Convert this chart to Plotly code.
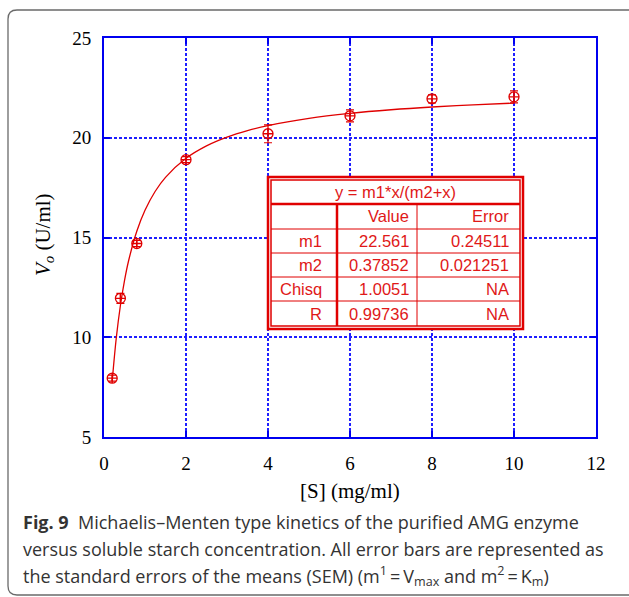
import plotly.graph_objects as go

# ---- data ----
S = [0.2, 0.4, 0.8, 2, 4, 6, 8, 10]
V = [7.95, 11.95, 14.7, 18.9, 20.2, 21.1, 21.95, 22.05]
V_err = [0.15, 0.25, 0.15, 0.15, 0.45, 0.3, 0.2, 0.3]
m1, m2 = 22.561, 0.37852
fit_x = [0.2, 0.3, 0.4, 0.5, 0.6, 0.8, 1.0, 1.25, 1.5, 2, 2.5, 3, 3.5, 4, 5, 6, 7, 8, 9, 10]
fit_y = [m1 * x / (m2 + x) for x in fit_x]

table_title = "y = m1*x/(m2+x)"
table_rows = [
    ["", "Value", "Error"],
    ["m1", "22.561", "0.24511"],
    ["m2", "0.37852", "0.021251"],
    ["Chisq", "1.0051", "NA"],
    ["R", "0.99736", "NA"],
]
xticks = [0, 2, 4, 6, 8, 10, 12]
yticks = [5, 10, 15, 20, 25]

W, H = 629, 597
L, R, T, B = 104, 596, 38, 437   # plot area in pixels


def px(x):
    return (x - L) / (R - L)


def py(y):
    return (B - y) / (B - T)


RED = "#e00000"
BLUE = "#0000f0"
GRID = "#1f1fff"

fig = go.Figure()
fig.add_trace(go.Scatter(x=fit_x, y=fit_y, mode="lines",
                         line=dict(color=RED, width=1.3), line_shape="spline",
                         hoverinfo="skip", showlegend=False))
fig.add_trace(go.Scatter(x=S, y=V, mode="markers",
                         marker=dict(symbol="circle-cross-open", size=10,
                                     color=RED, line=dict(color=RED, width=1.3)),
                         error_y=dict(type="data", array=V_err, color=RED,
                                      thickness=1.2, width=4),
                         showlegend=False))

axis_common = dict(showline=True, linecolor=BLUE, linewidth=2, mirror="allticks",
                   ticks="inside", ticklen=6, tickcolor=BLUE, tickwidth=1.5,
                   showgrid=True, gridcolor=GRID, gridwidth=1.5, griddash="3px,2px",
                   zeroline=False,
                   tickfont=dict(family="Liberation Serif", size=19, color="black"))
fig.update_xaxes(range=[0, 12], tickvals=xticks, ticklabelstandoff=8, **axis_common)
fig.update_yaxes(range=[5, 25], tickvals=yticks, ticklabelstandoff=7, **axis_common)

shapes = []
# outer rounded frame
x0, y0, x1, y1, r = 8, 10, 660, 595, 9
path = (f"M {px(x1)},{py(y0)} L {px(x0 + r)},{py(y0)} "
        f"Q {px(x0)},{py(y0)} {px(x0)},{py(y0 + r)} "
        f"L {px(x0)},{py(y1 - r)} Q {px(x0)},{py(y1)} {px(x0 + r)},{py(y1)} "
        f"L {px(x1)},{py(y1)}")
shapes.append(dict(type="path", xref="paper", yref="paper", path=path,
                   line=dict(color="#6a6a6a", width=1.3)))


# table
def rect(a, b, c, d, w, fill=None):
    s = dict(type="rect", xref="paper", yref="paper",
             x0=px(a), x1=px(c), y0=py(b), y1=py(d),
             line=dict(color=RED, width=w))
    if fill:
        s["fillcolor"] = fill
    return s


def hline(a, c, y, w):
    return dict(type="line", xref="paper", yref="paper", x0=px(a), x1=px(c),
                y0=py(y), y1=py(y), line=dict(color=RED, width=w))


def vline(x, b, d, w):
    return dict(type="line", xref="paper", yref="paper", x0=px(x), x1=px(x),
                y0=py(b), y1=py(d), line=dict(color=RED, width=w))


tx0, ty0, tx1, ty1 = 268, 177, 523, 329
ix0, iy0, ix1, iy1 = 271, 180, 520, 326
shapes.append(rect(tx0, ty0, tx1, ty1, 2.5, fill="white"))
shapes.append(rect(ix0, iy0, ix1, iy1, 1.5))
shapes.append(hline(ix0, ix1, 204, 2.5))
row_lines = [229, 253, 277, 301]
for yl in row_lines:
    shapes.append(hline(ix0, ix1, yl, 1))
shapes.append(vline(337, 204, iy1, 2.5))
shapes.append(vline(417, 204, iy1, 1))

annotations = []
tfont = dict(family="Liberation Sans", size=16.5, color="#e01818")
annotations.append(dict(xref="paper", yref="paper", x=px((ix0 + ix1) / 2), y=py(192),
                        text=table_title, showarrow=False, font=tfont,
                        xanchor="center", yanchor="middle"))
row_centers = [216.5, 241, 265, 289, 313.5]
col_right = [324, 411, 511]
for rc, row in zip(row_centers, table_rows):
    for cr, cell in zip(col_right, row):
        if cell:
            annotations.append(dict(xref="paper", yref="paper", x=px(cr), y=py(rc),
                                    text=cell, showarrow=False, font=tfont,
                                    xanchor="right", yanchor="middle"))

# axis titles
annotations.append(dict(xref="paper", yref="paper", x=px(350), y=py(491),
                        text="[S] (mg/ml)", showarrow=False,
                        font=dict(family="Liberation Serif", size=21, color="black"),
                        xanchor="center", yanchor="middle"))
annotations.append(dict(xref="paper", yref="paper", x=px(44), y=py(235),
                        text="<i>V</i><sub><i>o</i></sub> (U/ml)", showarrow=False,
                        textangle=-90,
                        font=dict(family="Liberation Serif", size=21, color="black"),
                        xanchor="center", yanchor="middle"))

# caption
cap_font = dict(family="Open Sans", size=18, color="#333333")
cap_lines = [
    "<b>Fig. 9</b>  Michaelis–Menten type kinetics of the purified AMG enzyme",
    "versus soluble starch concentration. All error bars are represented as",
    "the standard errors of the means (SEM) (m<sup>1</sup>\u2009=\u2009V<sub>max</sub> and m<sup>2</sup>\u2009=\u2009K<sub>m</sub>)",
]
cap_y = [522, 549, 576]
for yy, txt in zip(cap_y, cap_lines):
    annotations.append(dict(xref="paper", yref="paper", x=px(21), y=py(yy),
                            text=txt, showarrow=False, font=cap_font,
                            xanchor="left", yanchor="middle"))

fig.update_layout(width=W, height=H, margin=dict(l=L, r=W - R, t=T, b=H - B),
                  paper_bgcolor="white", plot_bgcolor="white",
                  shapes=shapes, annotations=annotations)

fig.write_html("out.html", config={"displayModeBar": False},
               post_script="document.body.style.margin='0';"
                           "document.body.style.overflow='hidden';")
